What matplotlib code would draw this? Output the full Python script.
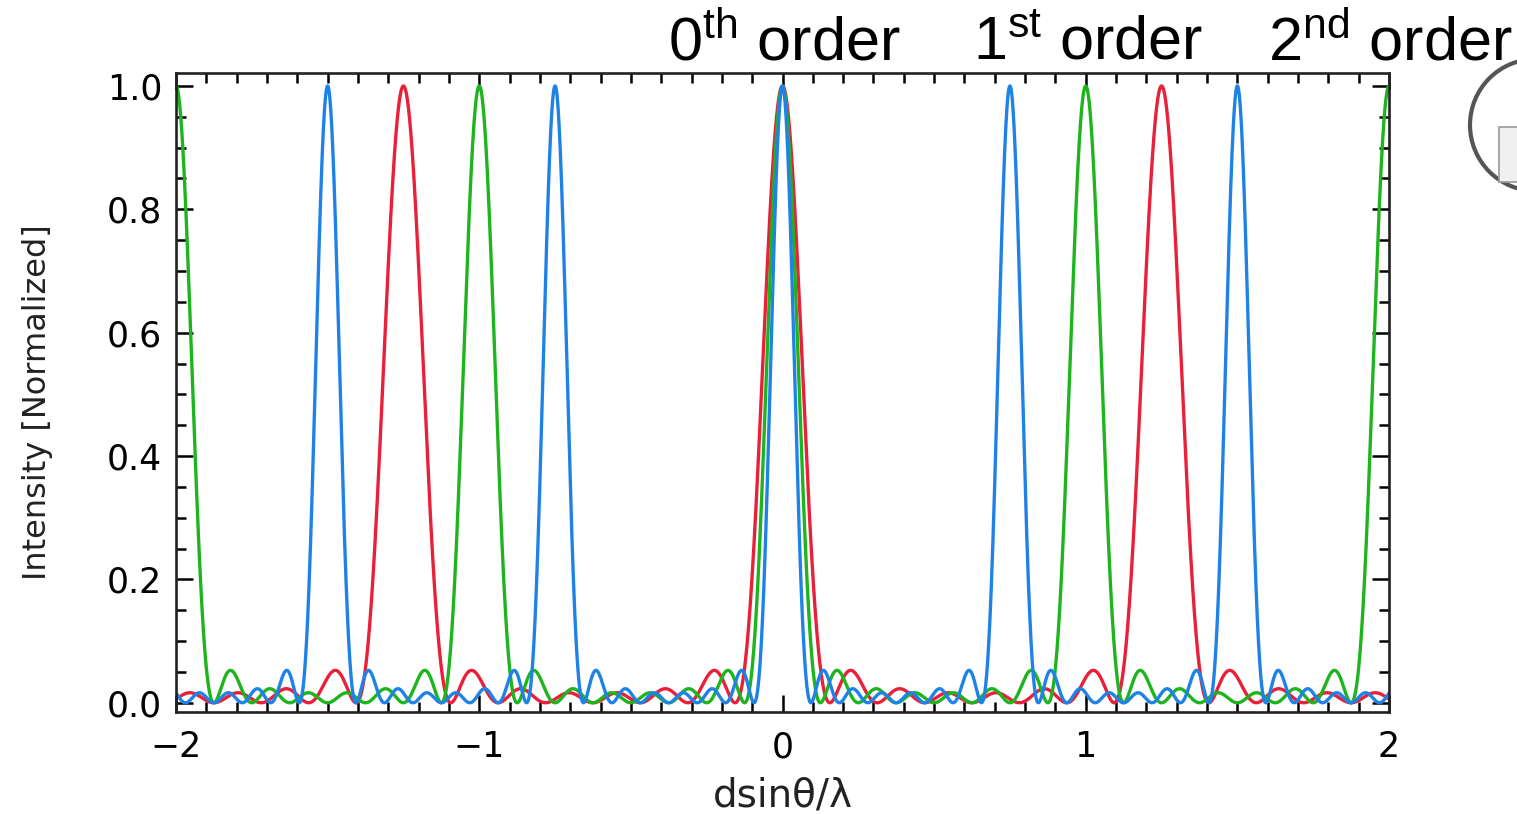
import numpy as np
import matplotlib
matplotlib.use("Agg")
import matplotlib.pyplot as plt
from matplotlib.patches import Circle, Rectangle
from matplotlib.transforms import IdentityTransform
from matplotlib.ticker import MultipleLocator

# Chart values
# grating pattern for three wavelengths: principal maxima every `spacing` in d*sin(theta)/lambda
series_names = ["red", "green", "blue"]
peak_spacing = [1.25, 1.0, 0.75]          # position of 1st order for each colour
n_slits = 8                               # 6 secondary maxima between principal maxima
line_colors = ["#e8203a", "#1eb41e", "#1f82e6"]
x_range = [-2.0, 2.0]
y_range = [-0.015, 1.021]
x_ticks = [-2, -1, 0, 1, 2]
x_tick_labels = ["\u22122", "\u22121", "0", "1", "2"]
y_ticks = [0.0, 0.2, 0.4, 0.6, 0.8, 1.0]
order_labels = [("0", "th"), ("1", "st"), ("2", "nd")]

plt.rcParams["mathtext.fontset"] = "custom"
plt.rcParams["mathtext.rm"] = "Liberation Sans"
plt.rcParams["mathtext.it"] = "Liberation Sans"

W, H = 1517, 814
fig = plt.figure(figsize=(W / 100, H / 100), dpi=100)
ax = fig.add_axes([176 / W, 1 - 712 / H, (1389 - 176) / W, (712 - 73) / H])

x = np.linspace(x_range[0], x_range[1], 8001)


def grating(u, n):
    # normalized N-slit interference pattern, u in units of the order spacing
    s = np.sin(np.pi * u)
    num = np.sin(n * np.pi * u)
    out = np.ones_like(u)
    ok = np.abs(s) > 1e-9
    out[ok] = (num[ok] / (n * s[ok])) ** 2
    return out


for name, sp, col in zip(series_names, peak_spacing, line_colors):
    ax.plot(x, grating(x / sp, n_slits), color=col, lw=2.4, solid_joinstyle="round")

ax.set_xlim(x_range)
ax.set_ylim(y_range)
ax.set_xticks(x_ticks)
ax.set_xticklabels(x_tick_labels)
ax.set_yticks(y_ticks)
ax.set_yticklabels([f"{v:.1f}" for v in y_ticks])
ax.xaxis.set_minor_locator(MultipleLocator(0.1))
ax.yaxis.set_minor_locator(MultipleLocator(0.05))
ax.tick_params(which="both", direction="in", top=True, right=True, color="black", width=1.8)
ax.tick_params(which="major", length=12)
ax.tick_params(which="minor", length=7)
ax.tick_params(axis="x", which="major", labelsize=25, pad=13)
ax.tick_params(axis="y", which="major", labelsize=25, pad=10)
for sp_ in ax.spines.values():
    sp_.set_linewidth(1.9)
    sp_.set_color("#222222")

# axis labels placed in figure pixels
fig.text(783 / W, 1 - 796 / H, "dsin\u03b8/\u03bb", ha="center", va="center", fontsize=28,
         family="DejaVu Sans", color="#222222")
fig.text(38 / W, 1 - 402 / H, "Intensity [Normalized]", ha="center", va="center",
         rotation=90, fontsize=23, color="#222222")

# order headers
header_x = [668, 973, 1268]
for (num, sup), hx in zip(order_labels, header_x):
    fig.text(hx / W, 1 - 60 / H, num + r"$^{\mathrm{" + sup + r"}}$" + " order",
             ha="left", va="baseline", fontsize=44, family="Liberation Sans", color="black")

# partially visible logo at right edge (pixel coordinates, origin bottom-left)
logo = Circle((1536, H - 125), 66, transform=IdentityTransform(),
              fill=False, edgecolor="#555555", lw=3)
fig.patches.append(logo)
fig.patches.append(Rectangle((1499, H - 182), 20, 55, transform=IdentityTransform(),
                             facecolor="#f0f0f0", edgecolor="#999999", lw=1.2))

fig.savefig("out.png", dpi=100)
